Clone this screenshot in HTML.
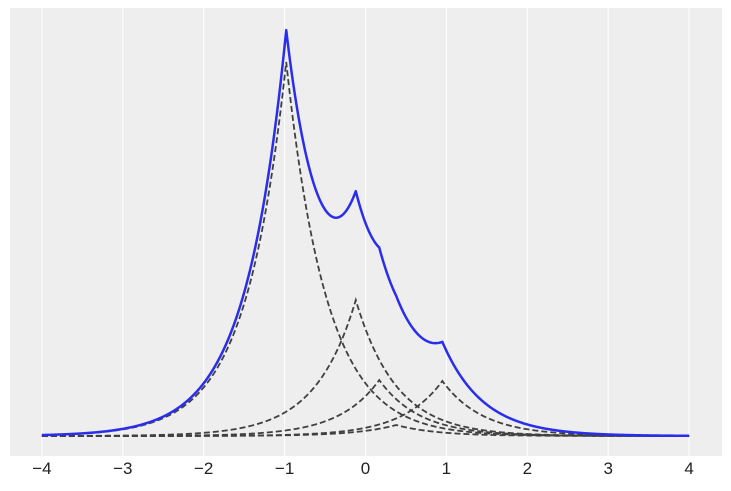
<!DOCTYPE html>
<html><head><meta charset="utf-8"><style>
body{margin:0;background:#fff;}
svg{display:block;font-family:"Liberation Sans","DejaVu Sans",sans-serif;}
</style></head><body>
<svg id="s" width="731" height="491" xmlns="http://www.w3.org/2000/svg">
<rect x="10" y="8" width="712" height="448" fill="#eeeeee"/>
<g id="grid" stroke="#ffffff" stroke-width="1"></g>
<g id="comps" fill="none" stroke="#404040" stroke-width="1.8" stroke-dasharray="6,3"></g>
<path id="tot" fill="none" stroke="#2a2eec" stroke-width="2.5" stroke-linejoin="round"/>
<g id="lab" font-size="17" fill="#222" text-anchor="middle"></g>
</svg>
<script>
var X0=365.5,S=80.9,B=436;
function px(x){return X0+x*S;}
var comps=[[-0.98,374,0.5],[-0.12,136,0.5],[0.17,56,0.5],[0.95,55,0.5],[0.38,11,0.5]];
var g=document.getElementById('grid'),l=document.getElementById('lab'),c=document.getElementById('comps');
var ns="http://www.w3.org/2000/svg";
for(var t=-4;t<=4;t++){
 var ln=document.createElementNS(ns,'line');ln.setAttribute('x1',px(t));ln.setAttribute('x2',px(t));ln.setAttribute('y1',8);ln.setAttribute('y2',456);g.appendChild(ln);
 var tx=document.createElementNS(ns,'text');tx.setAttribute('x',px(t));tx.setAttribute('y',474);tx.textContent=(t<0?'\u2212'+(-t):t);l.appendChild(tx);
}
var N=800,tot=[];
comps.forEach(function(cp){
 var d='';
 for(var i=0;i<=N;i++){var x=-4+8*i/N;var y=cp[1]*Math.exp(-Math.abs(x-cp[0])/cp[2]);tot[i]=(tot[i]||0)+y;d+=(i?'L':'M')+px(x).toFixed(2)+','+(B-y).toFixed(2);}
 var p=document.createElementNS(ns,'path');p.setAttribute('d',d);c.appendChild(p);
});
var d='';for(var i=0;i<=N;i++){var x=-4+8*i/N;d+=(i?'L':'M')+px(x).toFixed(2)+','+(B-tot[i]).toFixed(2);}
document.getElementById('tot').setAttribute('d',d);
</script>
</body></html>
